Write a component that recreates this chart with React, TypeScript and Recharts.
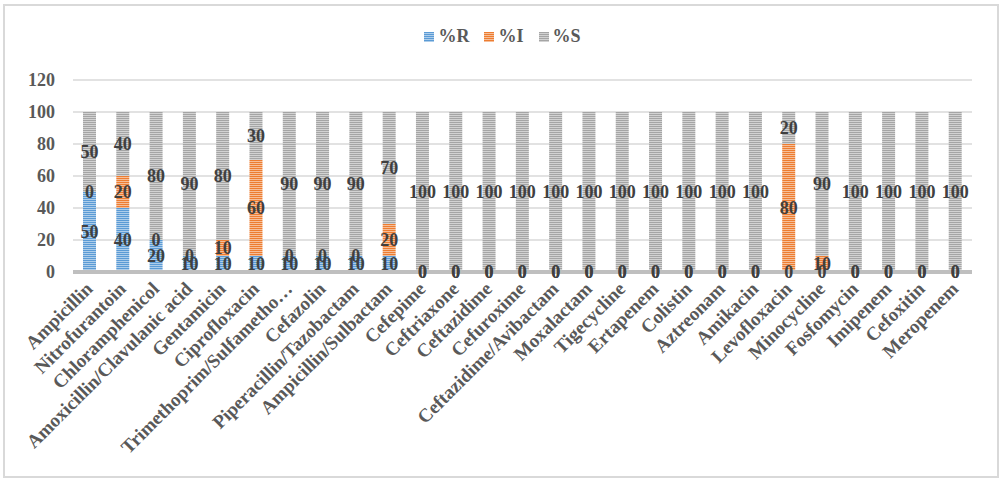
import { Bar, BarChart, CartesianGrid, LabelList, XAxis, YAxis } from "recharts";

const categories = [
  "Ampicillin",
  "Nitrofurantoin",
  "Chloramphenicol",
  "Amoxicillin/Clavulanic acid",
  "Gentamicin",
  "Ciprofloxacin",
  "Trimethoprim/Sulfametho…",
  "Cefazolin",
  "Piperacillin/Tazobactam",
  "Ampicillin/Sulbactam",
  "Cefepime",
  "Ceftriaxone",
  "Ceftazidime",
  "Cefuroxime",
  "Ceftazidime/Avibactam",
  "Moxalactam",
  "Tigecycline",
  "Ertapenem",
  "Colistin",
  "Aztreonam",
  "Amikacin",
  "Levofloxacin",
  "Minocycline",
  "Fosfomycin",
  "Imipenem",
  "Cefoxitin",
  "Meropenem",
];

const resistant = [50, 40, 20, 10, 10, 10, 10, 10, 10, 10, 0, 0, 0, 0, 0, 0, 0, 0, 0, 0, 0, 0, 0, 0, 0, 0, 0];
const intermediate = [0, 20, 0, 0, 10, 60, 0, 0, 0, 20, 0, 0, 0, 0, 0, 0, 0, 0, 0, 0, 0, 80, 10, 0, 0, 0, 0];
const susceptible = [50, 40, 80, 90, 80, 30, 90, 90, 90, 70, 100, 100, 100, 100, 100, 100, 100, 100, 100, 100, 100, 20, 90, 100, 100, 100, 100];

const yTicks = [0, 20, 40, 60, 80, 100, 120];

const data = categories.map((name, i) => ({
  name,
  r: resistant[i],
  i: intermediate[i],
  s: susceptible[i],
}));

const FONT = '"Liberation Serif", "Times New Roman", serif';
const TEXT = "#595959";
const LABEL = "#404040";

const series = [
  { key: "r", name: "%R", color: "#5B9BD5", pattern: "patR" },
  { key: "i", name: "%I", color: "#ED7D31", pattern: "patI" },
  { key: "s", name: "%S", color: "#A5A5A5", pattern: "patS" },
];

function CategoryTick({ x, y, payload }: any) {
  return (
    <g transform={`translate(${x + 4},${y + 10})`}>
      <text
        x={0}
        y={0}
        transform="rotate(-45)"
        textAnchor="end"
        fill={TEXT}
        fontFamily={FONT}
        fontWeight="bold"
        fontSize={19}
      >
        {payload.value}
      </text>
    </g>
  );
}

export default function App() {
  return (
    <div style={{ position: "absolute", left: 0, top: 0, width: 1005, height: 483, background: "#fff" }}>
      <svg width={0} height={0} style={{ position: "absolute" }}>
        <defs>
          {series.map((s) => (
            <pattern key={s.pattern} id={s.pattern} width={4} height={2} patternUnits="userSpaceOnUse">
              <rect width={4} height={2} fill={s.color} />
              <rect y={1} width={4} height={1} fill="#fff" fillOpacity={0.5} />
            </pattern>
          ))}
        </defs>
      </svg>
      <div
        style={{
          position: "absolute",
          left: 3,
          top: 4,
          width: 992,
          height: 470,
          border: "2px solid #D9D9D9",
        }}
      />
      <div
        style={{
          position: "absolute",
          top: 26,
          left: 0,
          width: 1005,
          display: "flex",
          justifyContent: "center",
          gap: 15,
          fontFamily: FONT,
        }}
      >
        {series.map((s) => (
          <div key={s.key} style={{ display: "flex", alignItems: "center", gap: 4 }}>
            <svg width={10} height={10}>
              <rect width={10} height={10} fill={`url(#${s.pattern})`} />
            </svg>
            <span style={{ color: TEXT, fontWeight: "bold", fontSize: 18 }}>{s.name}</span>
          </div>
        ))}
      </div>
      <BarChart
        width={1005}
        height={483}
        data={data}
        margin={{ top: 80, right: 33, bottom: 0, left: 0 }}
        barSize={13}
      >
        <CartesianGrid vertical={false} stroke="#D9D9D9" strokeWidth={1.5} />
        <XAxis
          dataKey="name"
          interval={0}
          height={211}
          axisLine={{ stroke: "#BFBFBF", strokeWidth: 4 }}
          tickLine={false}
          tick={<CategoryTick />}
        />
        <YAxis
          width={73}
          domain={[0, 120]}
          ticks={yTicks}
          axisLine={false}
          tickLine={false}
          tickMargin={12}
          tick={{ fill: TEXT, fontFamily: FONT, fontWeight: "bold", fontSize: 18 }}
        />
        {series.map((s) => (
          <Bar
            key={s.key}
            dataKey={s.key}
            name={s.name}
            stackId="a"
            fill={`url(#${s.pattern})`}
            minPointSize={0.01}
            isAnimationActive={false}
          >
            <LabelList
              dataKey={s.key}
              position="center"
              fill={LABEL}
              fontFamily={FONT}
              fontWeight="bold"
              fontSize={18}
            />
          </Bar>
        ))}
      </BarChart>
    </div>
  );
}
